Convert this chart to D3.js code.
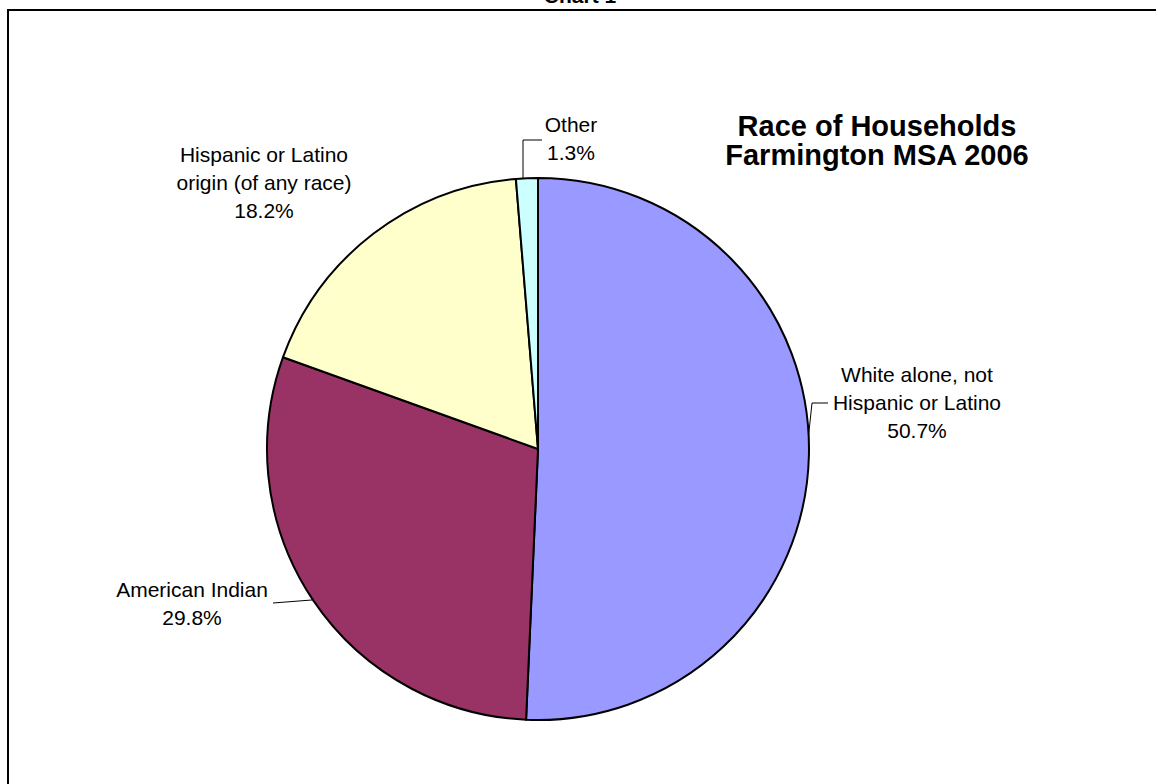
<!DOCTYPE html>
<html>
<head>
<meta charset="utf-8">
<script src="https://cdn.jsdelivr.net/npm/d3@7"></script>
<style>
  html, body { margin: 0; padding: 0; background: #fff; }
  svg { display: block; font-family: "Liberation Sans", Arial, sans-serif; }
</style>
</head>
<body>
<svg id="chart" width="1156" height="784"></svg>
<script>
// Household race shares, Farmington MSA 2006 (percent)
const categories = [
  "White alone, not Hispanic or Latino",
  "American Indian",
  "Hispanic or Latino origin (of any race)",
  "Other"
];
const values = [50.7, 29.8, 18.2, 1.3];
const colors = ["#9999FF", "#993366", "#FFFFCC", "#CCFFFF"];

// Label text broken into lines as printed beside each slice
const labelLines = [
  ["White alone, not", "Hispanic or Latino"],
  ["American Indian"],
  ["Hispanic or Latino", "origin (of any race)"],
  ["Other"]
];

const titleLines = ["Race of Households", "Farmington MSA 2006"];

const width = 1156, height = 784;
const cx = 538, cy = 449, radius = 271;

const svg = d3.select("#chart");

// Outer frame (runs off the right and bottom edges)
svg.append("rect")
  .attr("x", 8).attr("y", 10)
  .attr("width", 1300).attr("height", 1000)
  .attr("fill", "none").attr("stroke", "#000").attr("stroke-width", 2);

// Page caption, clipped at the top edge
svg.append("text")
  .attr("x", 580).attr("y", 3)
  .attr("text-anchor", "middle")
  .attr("font-size", 21).attr("font-weight", "bold")
  .text("Chart 1");

const data = categories.map((c, i) => ({ name: c, value: values[i], color: colors[i], lines: labelLines[i] }));

const pie = d3.pie().value(d => d.value).sort(null);
const arcs = pie(data);
const arc = d3.arc().innerRadius(0).outerRadius(radius);

const g = svg.append("g").attr("transform", `translate(${cx},${cy})`);

g.selectAll("path.slice")
  .data(arcs)
  .join("path")
  .attr("class", "slice")
  .attr("d", arc)
  .attr("fill", d => d.data.color)
  .attr("stroke", "#000")
  .attr("stroke-width", 2)
  .attr("stroke-linejoin", "round");

// Label placement: centre x, first-line y, rim attachment (fraction of a turn,
// clockwise from 12 o'clock) and the leader's elbow points
const labelLayout = [
  { x: 917, y: 375, leaderAt: 0.2417, leader: [[812, 403], [828, 403]] },
  { x: 192, y: 590, leaderAt: 0.6560, leader: [[273, 603]] },
  { x: 264, y: 155, leaderAt: null, leader: null },
  { x: 571, y: 125, leaderAt: 0.9912, leader: [[523, 140], [542, 140]] }
];

const lineH = 28;
const fmt = v => v.toFixed(1) + "%";

arcs.forEach((a, i) => {
  const L = labelLayout[i];
  if (L.leader) {
    const ang = L.leaderAt * 2 * Math.PI;
    const start = [cx + radius * Math.sin(ang), cy - radius * Math.cos(ang)];
    svg.append("path")
      .attr("d", d3.line()([start, ...L.leader]))
      .attr("fill", "none")
      .attr("stroke", "#000")
      .attr("stroke-width", 1);
  }
  const lines = [...a.data.lines, fmt(a.data.value)];
  const t = svg.append("text")
    .attr("text-anchor", "middle")
    .attr("font-size", 21)
    .attr("fill", "#000");
  lines.forEach((ln, k) => {
    t.append("tspan")
      .attr("x", L.x)
      .attr("y", L.y + k * lineH)
      .attr("dy", "0.35em")
      .text(ln);
  });
});

// Chart title
const title = svg.append("text")
  .attr("text-anchor", "middle")
  .attr("font-size", 29)
  .attr("font-weight", "bold");
titleLines.forEach((ln, k) => {
  title.append("tspan")
    .attr("x", 877)
    .attr("y", 125.5 + k * 29)
    .attr("dy", "0.35em")
    .text(ln);
});
</script>
</body>
</html>
